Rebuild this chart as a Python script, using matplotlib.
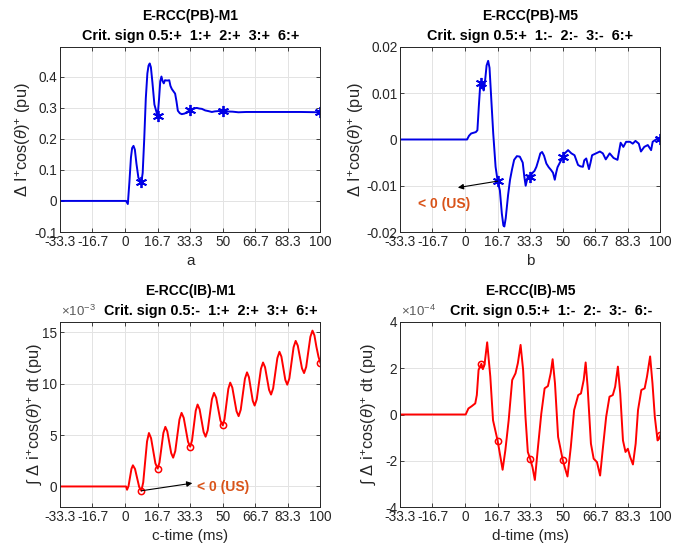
import matplotlib
import matplotlib.pyplot as plt

matplotlib.use("Agg")

plt.rcParams["font.family"] = ["Liberation Sans", "DejaVu Sans"]
plt.rcParams["mathtext.fontset"] = "custom"
plt.rcParams["mathtext.rm"] = "Liberation Sans"
plt.rcParams["mathtext.it"] = "Liberation Sans:italic"

# common x axis (ms)
x_ticks = [-33.3, -16.7, 0, 16.7, 33.3, 50, 66.7, 83.3, 100]
x_ticklabels = ["-33.3", "-16.7", "0", "16.7", "33.3", "50", "66.7", "83.3", "100"]
crit_t = [8.33, 16.67, 33.33, 50, 100]

# (a) E-RCC(PB)-M1
pb_m1_t = [-33.3, 0.5, 1.4, 2.2, 3.0, 3.6, 4.3, 5.0, 5.8, 6.8, 8.33, 9.0, 9.8, 10.6, 11.4, 12.0,
           12.6, 13.2, 14.0, 15.0, 16.67, 17.4, 18.0, 18.6, 19.2, 19.8, 20.4, 21.5, 22.6, 23.2,
           23.9, 24.8, 25.6, 26.3, 27.0, 28.0, 29.0, 30.5, 31.5, 33.33, 35, 36.7, 38, 39.3, 41,
           42.5, 44.4, 46, 48, 50, 55, 58, 62, 70, 80, 90, 100]
pb_m1_v = [0, 0, -0.01, 0.06, 0.14, 0.17, 0.177, 0.165, 0.12, 0.075, 0.06, 0.09, 0.2, 0.33, 0.41,
           0.435, 0.442, 0.43, 0.38, 0.31, 0.272, 0.33, 0.385, 0.40, 0.385, 0.378, 0.388, 0.387,
           0.388, 0.37, 0.36, 0.352, 0.345, 0.32, 0.29, 0.282, 0.279, 0.281, 0.285, 0.292, 0.297,
           0.299, 0.297, 0.296, 0.291, 0.289, 0.286, 0.288, 0.289, 0.288, 0.287, 0.285, 0.286,
           0.286, 0.286, 0.286, 0.285]
pb_m1_crit = [0.06, 0.272, 0.292, 0.288, 0.285]

# (b) E-RCC(PB)-M5
pb_m5_t = [-33.3, 1.0, 2.0, 3.1, 5.5, 6.3, 7.0, 7.7, 8.33, 9.0, 9.5, 10.3, 11.0, 11.8, 12.5, 13.5,
           14.4, 15.6, 16.67, 17.8, 18.8, 19.6, 20.1, 20.8, 22.0, 23.0, 24.0, 25.1, 26.5, 28, 29.5,
           30.3, 31, 31.8, 32.5, 33.33, 34.5, 35.5, 36.5, 37.5, 38.5, 39.4, 40.4, 41.6, 42.8, 44,
           45, 45.9, 46.6, 47.3, 48.5, 50, 51, 52.7, 54.4, 56, 57.8, 59, 60.3, 61, 62, 63.4, 64.2,
           65, 67, 69, 70.5, 72, 74, 76, 78, 79.6, 81, 82.4, 84.4, 85.8, 87.2, 88.9, 90, 91.7, 93.5,
           95.2, 96, 97.7, 99, 100]
pb_m5_v = [0, 0, 0.0008, 0.0013, 0.0016, 0.002, 0.007, 0.0115, 0.0123, 0.0115, 0.0106, 0.013,
           0.016, 0.017, 0.0155, 0.008, 0.0013, -0.0059, -0.009, -0.011, -0.016, -0.0186, -0.0188,
           -0.017, -0.012, -0.0087, -0.0065, -0.0044, -0.0036, -0.0037, -0.005, -0.008, -0.010,
           -0.0085, -0.0078, -0.008, -0.0072, -0.0068, -0.0059, -0.0045, -0.003, -0.0027, -0.0035,
           -0.0052, -0.006, -0.0066, -0.0072, -0.0087, -0.0072, -0.006, -0.005, -0.0038, -0.003,
           -0.0023, -0.003, -0.0034, -0.0055, -0.0058, -0.0059, -0.0045, -0.0041, -0.0064, -0.005,
           -0.0034, -0.003, -0.0026, -0.003, -0.0043, -0.003, -0.004, -0.0044, -0.0007, -0.0016,
           -0.0005, -0.0005, -0.0009, -0.0003, -0.0009, -0.0026, -0.0016, -0.0012, -0.0023,
           -0.0005, 0.0, 0.0003, 0.0002]
pb_m5_crit = [0.0123, -0.009, -0.008, -0.0038, 0.0002]

# (c) E-RCC(IB)-M1, values in 1e-3 pu
ib_m1_t = [-33.3, 0.5, 1.0, 1.75, 2.5, 3.25, 4.0, 5.08, 6.15, 7.23, 8.33, 9.28, 10.25, 11.23, 12.2,
           13.3, 14.4, 15.5, 16.67, 17.6, 18.6, 19.6, 20.6, 21.6, 22.6, 23.6, 24.6, 25.68, 26.75,
           27.83, 28.9, 30.0, 31.1, 32.2, 33.33, 34.25, 35.2, 36.15, 37.1, 38.13, 39.15, 40.18,
           41.2, 42.28, 43.35, 44.43, 45.5, 46.6, 47.7, 48.8, 50.0, 50.88, 51.85, 52.83, 53.8,
           54.88, 55.95, 57.03, 58.1, 59.18, 60.25, 61.33, 62.4, 63.38, 64.35, 65.33, 66.3, 67.38,
           68.45, 69.53, 70.6, 71.63, 72.65, 73.68, 74.7, 75.78, 76.85, 77.93, 79.0, 80.0, 81.0,
           82.0, 83.0, 84.08, 85.15, 86.23, 87.3, 88.38, 89.45, 90.53, 91.6, 92.68, 93.75, 94.83,
           95.9, 96.9, 97.9, 99.0, 100]
ib_m1_v = [0, 0, -0.32, 0.03, 0.87, 1.71, 2.06, 1.70, 0.82, -0.06, -0.42, 0.40, 2.39, 4.38, 5.2,
           4.69, 3.47, 2.25, 1.74, 2.33, 3.77, 5.21, 5.8, 5.36, 4.3, 3.24, 2.8, 3.44, 4.98, 6.52,
           7.16, 6.68, 5.52, 4.35, 3.87, 4.47, 5.92, 7.37, 7.97, 7.51, 6.41, 5.30, 4.84, 5.46, 6.97,
           8.48, 9.1, 8.64, 7.52, 6.40, 5.94, 6.55, 8.02, 9.49, 10.1, 9.62, 8.47, 7.32, 6.84, 7.46,
           8.97, 10.48, 11.1, 10.63, 9.49, 8.34, 7.87, 8.48, 9.97, 11.45, 12.06, 11.6, 10.5, 9.40,
           8.94, 9.55, 11.02, 12.49, 13.1, 12.63, 11.5, 10.37, 9.9, 10.52, 12.03, 13.54, 14.16,
           13.7, 12.6, 11.49, 11.03, 11.63, 13.1, 14.56, 15.16, 14.7, 13.6, 12.6, 12.0]
ib_m1_crit = [-0.42, 1.74, 3.87, 5.94, 12.0]

# (d) E-RCC(IB)-M5, values in 1e-4 pu
ib_m5_t = [-33.3, 0.3, 1.7, 3.4, 5.2, 6.0, 6.9, 8.33, 9.1, 10.0, 11.3, 12.9, 14.3, 16.67, 19.2,
           20.6, 22.3, 24.1, 25.8, 27.0, 28.4, 29.7, 30.9, 32.1, 33.33, 34.5, 35.7, 37.3, 39.0,
           40.7, 42.4, 43.8, 44.8, 46.0, 47.6, 50.0, 51.0, 52.4, 54.1, 55.8, 57.9, 59.3, 60.7,
           61.7, 62.7, 64.4, 65.8, 67.5, 69.1, 70.4, 72.2, 73.9, 75.6, 76.8, 78.2, 79.4, 80.8,
           82.1, 83.3, 84.5, 85.9, 87.3, 88.5, 90.2, 91.9, 93.1, 94.7, 95.9, 97.1, 98.5, 99.2, 100]
ib_m5_v = [0, 0, 0.26, 0.36, 0.48, 0.84, 1.93, 2.19, 1.96, 2.2, 3.12, 1.64, -0.25, -1.14, -2.39,
           -1.55, -0.25, 1.49, 1.78, 2.22, 3.01, 1.93, -0.1, -1.62, -1.92, -2.28, -2.83, -1.41,
           0.04, 1.13, 1.23, 1.78, 2.39, 1.35, -0.97, -1.97, -2.28, -2.68, -1.41, 0.19, 0.84, 0.91,
           1.49, 2.25, 1.2, -1.26, -1.91, -2.06, -2.64, -1.55, -0.1, 0.77, 0.84, 1.2, 2.07, 0.91,
           -1.12, -1.62, -1.48, -1.84, -2.16, -1.26, 0.19, 1.06, 1.13, 1.64, 2.51, 1.35, -0.1,
           -1.12, -1.05, -0.87]
ib_m5_crit = [2.19, -1.14, -1.92, -1.97, -0.87]

TXT = "#262626"
ORANGE = "#D95319"
BLUE = "#0000e6"
RED = "#ff0000"
ASTERISK = (6, 2, 0)


def style_axes(ax, ylim, yticks, yticklabels, xlabel, ylabel, ylab_x):
    ax.set_xlim(-33.3, 100)
    ax.set_ylim(*ylim)
    ax.set_xticks(x_ticks)
    ax.set_xticklabels(x_ticklabels)
    ax.set_yticks(yticks)
    ax.set_yticklabels(yticklabels)
    ax.grid(True, color="#e3e3e3", linewidth=0.7)
    ax.set_axisbelow(True)
    ax.tick_params(direction="in", length=3, width=0.6, labelsize=9.8, colors=TXT,
                   top=True, right=True, pad=2)
    for s in ax.spines.values():
        s.set_color(TXT)
        s.set_linewidth(0.7)
    ax.set_xlabel(xlabel, fontsize=11, color=TXT, labelpad=4)
    ax.set_ylabel(ylabel, fontsize=11.8, color=TXT)
    ax.yaxis.set_label_coords(ylab_x, 0.5)


def titles(ax, name, signs, shift=0):
    ax.annotate(name, xy=(0.5, 1), xycoords="axes fraction", xytext=(0, 19.5),
                textcoords="offset points", ha="center", va="baseline",
                fontsize=10, fontweight="bold")
    ax.annotate(signs, xy=(0.5, 1), xycoords="axes fraction", xytext=(shift, 5),
                textcoords="offset points", ha="center", va="baseline",
                fontsize=10.4, fontweight="bold")


def exponent(ax, p):
    ax.annotate(r"$\times10^{%d}$" % p, xy=(0, 1), xycoords="axes fraction",
                xytext=(1, 4), textcoords="offset points", ha="left", va="baseline",
                fontsize=9.5, color="#5a5a5a")


fig = plt.figure(figsize=(6.73, 5.54), dpi=100)
w, h = 0.387, 0.334
ax_a = fig.add_axes([0.0892, 0.5812, w, h])
ax_b = fig.add_axes([0.5944, 0.5812, w, h])
ax_c = fig.add_axes([0.0892, 0.0848, w, h])
ax_d = fig.add_axes([0.5944, 0.0848, w, h])

ylab_pb = r"$\Delta$ I$^{+}$cos($\mathit{\theta}$)$^{+}$ (pu)"
ylab_ib = r"$\int$ $\Delta$ i$^{+}$cos($\mathit{\theta}$)$^{+}$ dt (pu)"

# a
ax_a.plot(pb_m1_t, pb_m1_v, color=BLUE, linewidth=1.4)
ax_a.plot(crit_t, pb_m1_crit, linestyle="none", marker=ASTERISK, color=BLUE, markersize=8,
          markeredgewidth=1.3)
style_axes(ax_a, (-0.1, 0.495), [-0.1, 0, 0.1, 0.2, 0.3, 0.4],
           ["-0.1", "0", "0.1", "0.2", "0.3", "0.4"], "a", ylab_pb, -0.105)
titles(ax_a, "E-RCC(PB)-M1", "Crit. sign 0.5:+  1:+  2:+  3:+  6:+")

# b
ax_b.plot(pb_m5_t, pb_m5_v, color=BLUE, linewidth=1.4)
ax_b.plot(crit_t, pb_m5_crit, linestyle="none", marker=ASTERISK, color=BLUE, markersize=8,
          markeredgewidth=1.3)
style_axes(ax_b, (-0.02, 0.02), [-0.02, -0.01, 0, 0.01, 0.02],
           ["-0.02", "-0.01", "0", "0.01", "0.02"], "b", ylab_pb, -0.13)
titles(ax_b, "E-RCC(PB)-M5", "Crit. sign 0.5:+  1:-  2:-  3:-  6:+")
ax_b.annotate("", xy=(-3.7, -0.0104), xytext=(crit_t[1], pb_m5_crit[1]),
              arrowprops=dict(arrowstyle="-|>", color="black", lw=0.8,
                              mutation_scale=8, shrinkA=0, shrinkB=0))
ax_b.text(-24, -0.0139, "< 0 (US)", color=ORANGE, fontsize=10, fontweight="bold",
          ha="left", va="center")

# c
ax_c.plot(ib_m1_t, ib_m1_v, color=RED, linewidth=1.4)
ax_c.plot(crit_t, ib_m1_crit, linestyle="none", marker="o", markerfacecolor="none",
          markeredgecolor=RED, markeredgewidth=1.1, markersize=4.5)
style_axes(ax_c, (-2, 16), [0, 5, 10, 15], ["0", "5", "10", "15"], "c-time (ms)", ylab_ib,
           -0.06)
titles(ax_c, "E-RCC(IB)-M1", "Crit. sign 0.5:-  1:+  2:+  3:+  6:+", shift=15)
exponent(ax_c, -3)
ax_c.annotate("", xy=(34.4, 0.32), xytext=(crit_t[0], ib_m1_crit[0]),
              arrowprops=dict(arrowstyle="-|>", color="black", lw=0.8,
                              mutation_scale=8, shrinkA=0, shrinkB=0))
ax_c.text(36.6, -0.1, "< 0 (US)", color=ORANGE, fontsize=10, fontweight="bold",
          ha="left", va="center")

# d
ax_d.plot(ib_m5_t, ib_m5_v, color=RED, linewidth=1.4)
ax_d.plot(crit_t, ib_m5_crit, linestyle="none", marker="o", markerfacecolor="none",
          markeredgecolor=RED, markeredgewidth=1.1, markersize=4.5)
style_axes(ax_d, (-4, 4), [-4, -2, 0, 2, 4], ["-4", "-2", "0", "2", "4"], "d-time (ms)",
           ylab_ib, -0.085)
titles(ax_d, "E-RCC(IB)-M5", "Crit. sign 0.5:+  1:-  2:-  3:-  6:-", shift=15)
exponent(ax_d, -4)

fig.savefig("out.png", dpi=100)
